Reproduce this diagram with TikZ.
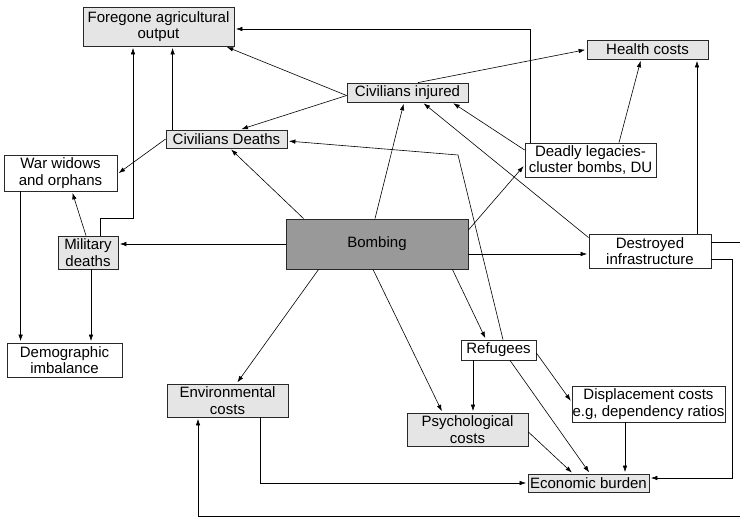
\documentclass[tikz,border=0pt]{standalone}
\usepackage{fontspec}
\setmainfont{Liberation Sans}
\usepackage{xcolor}
\usepackage{tikz}
\usetikzlibrary{arrows.meta, positioning}
\definecolor{costgray}{RGB}{229, 229, 229}
\definecolor{bombgray}{RGB}{153, 153, 153}
\definecolor{edgegray}{RGB}{40, 40, 40}

\begin{document}
\begin{tikzpicture}[x=1pt, y=-1pt,
    box/.style={draw=edgegray, line width=0.8pt, inner sep=0pt, align=center, font=\fontsize{15}{16.5}\selectfont},
    cost/.style={box, fill=costgray},
    plain/.style={box, fill=white},
    arr/.style={-{Latex[length=6.5pt, width=4.5pt]}, line width=0.6pt, shorten >=1.5pt}]
        \useasboundingbox (0,0) rectangle (740,517);

        % Central node
        \node[box, fill=bombgray, minimum width=182pt, minimum height=50pt] (bombing) at (377,244) {Bombing};

        % Surrounding nodes
        \node[cost, minimum width=151pt, minimum height=39pt] (foregone) at (158.5,26.5) {Foregone agricultural\\output};
        \node[cost, minimum width=121pt, minimum height=19pt] (injured) at (407.5,92.5) {Civilians injured};
        \node[cost, minimum width=121pt, minimum height=18pt] (deaths) at (226.5,139) {Civilians Deaths};
        \node[cost, minimum width=121pt, minimum height=19pt] (health) at (647.5,49.5) {Health costs};
        \node[plain, minimum width=131pt, minimum height=34pt] (legacies) at (590.5,160) {Deadly legacies-\\cluster bombs, DU};
        \node[plain, minimum width=113pt, minimum height=36pt] (widows) at (60.5,173) {War widows\\and orphans};
        \node[cost, minimum width=60pt, minimum height=33pt] (military) at (88,252.5) {Military\\deaths};
        \node[plain, minimum width=122pt, minimum height=34pt] (infra) at (650,251) {Destroyed\\infrastructure};
        \node[plain, minimum width=115pt, minimum height=34pt] (demographic) at (64.5,360) {Demographic\\imbalance};
        \node[cost, minimum width=121pt, minimum height=33pt] (env) at (227.5,400.5) {Environmental\\costs};
        \node[plain, minimum width=75pt, minimum height=20pt] (refugees) at (498.5,350) {Refugees};
        \node[cost, minimum width=121pt, minimum height=33pt] (psych) at (467.5,429.5) {Psychological\\costs};
        \node[plain, minimum width=153pt, minimum height=36pt] (displacement) at (648.5,404) {Displacement costs\\e.g, dependency ratios};
        \node[cost, minimum width=121pt, minimum height=18pt] (economic) at (588.5,483) {Economic burden};
        \coordinate (bendA) at (458,155);

        % Arrows out of bombing
        \draw[arr] ([xshift=18pt]bombing.north west) -- ([xshift=3.5pt]deaths.south);
        \draw[arr] ([xshift=-2pt]bombing.north) -- ([xshift=-3.5pt]injured.south);
        \draw[arr] ([yshift=14pt]bombing.east) -- ([yshift=-5pt]legacies.west);
        \draw[arr] ([yshift=-10pt]bombing.east) -- ([yshift=-10pt]bombing.east -| infra.west);
        \draw[arr] (bombing.west) -- (bombing.west -| military.east);
        \draw[arr] ([xshift=33pt]bombing.south west) -- ([xshift=9pt]env.north);
        \draw[arr] ([xshift=-4pt]bombing.south) -- ([xshift=-25pt]psych.north);
        \draw[arr] ([xshift=-16pt]bombing.south east) -- ([xshift=-12.5pt]refugees.north);

        % Civilians
        \draw[arr] ([yshift=-3pt]injured.west) -- ([xshift=-9pt]foregone.south east);
        \draw[arr] ([yshift=-3pt]injured.west) -- ([xshift=13.5pt]deaths.north);
        \draw[arr] ([xshift=10.5pt]injured.north) -- (health.west);
        \draw[arr] ([xshift=7pt]deaths.north west) -- ([xshift=7pt]deaths.north west |- foregone.south);
        \draw[arr] (deaths.west) -- ([yshift=-1pt]widows.east);

        % Deadly legacies
        \draw[arr] ([yshift=10pt]legacies.west) -- ([xshift=44.5pt]injured.south);
        \draw[arr] ([xshift=28.5pt]legacies.north) -- ([xshift=-6.5pt]health.south);
        \draw[arr] ([xshift=6pt]legacies.north west) |- ([yshift=-2.5pt]foregone.east);

        % Destroyed infrastructure
        \draw[arr] ([yshift=-4pt]infra.north west) -- ([xshift=15pt]injured.south);
        \draw[arr] ([xshift=47pt]infra.north) -- ([xshift=47pt]infra.north |- health.south);
        \draw[arr] ([yshift=-8pt]infra.east) -- ++(21,0) |- ([yshift=5pt]economic.east);
        \draw[arr] ([yshift=9pt]infra.east) -- ++(34,0) -- ++(0,274) -| ([xshift=-29.5pt]env.south);

        % Military deaths
        \draw[arr] ([xshift=-2pt]military.north) -- ([xshift=11.5pt]widows.south);
        \draw[arr] ([xshift=12pt]military.north) -- ++(0,-17) -| ([xshift=-25.5pt]foregone.south);
        \draw[arr] ([xshift=3pt]military.south) -- ([xshift=3pt]military.south |- demographic.north);
        \draw[arr] ([xshift=17pt]widows.south west) -- ([xshift=17pt]widows.south west |- demographic.north);

        % Refugees
        \draw[arr] ([xshift=4.5pt]refugees.north) -- (bendA) -- ([yshift=-2pt]deaths.east);
        \draw[arr] ([xshift=-25.5pt]refugees.south) -- ([xshift=-25.5pt]refugees.south |- psych.north);
        \draw[arr] ([yshift=-3pt]refugees.east) -- ([yshift=2pt]displacement.west);
        \draw[arr] ([xshift=11.5pt]refugees.south) -- ([xshift=1.5pt]economic.north);

        % Economic burden
        \draw[arr] ([yshift=-2.5pt]psych.east) -- ([xshift=-15.5pt]economic.north);
        \draw[arr] ([xshift=-23.5pt]displacement.south) -- ([xshift=-23.5pt]displacement.south |- economic.north);
        \draw[arr] ([xshift=32.5pt]env.south) |- (economic.west);
    \end{tikzpicture}
\end{document}
